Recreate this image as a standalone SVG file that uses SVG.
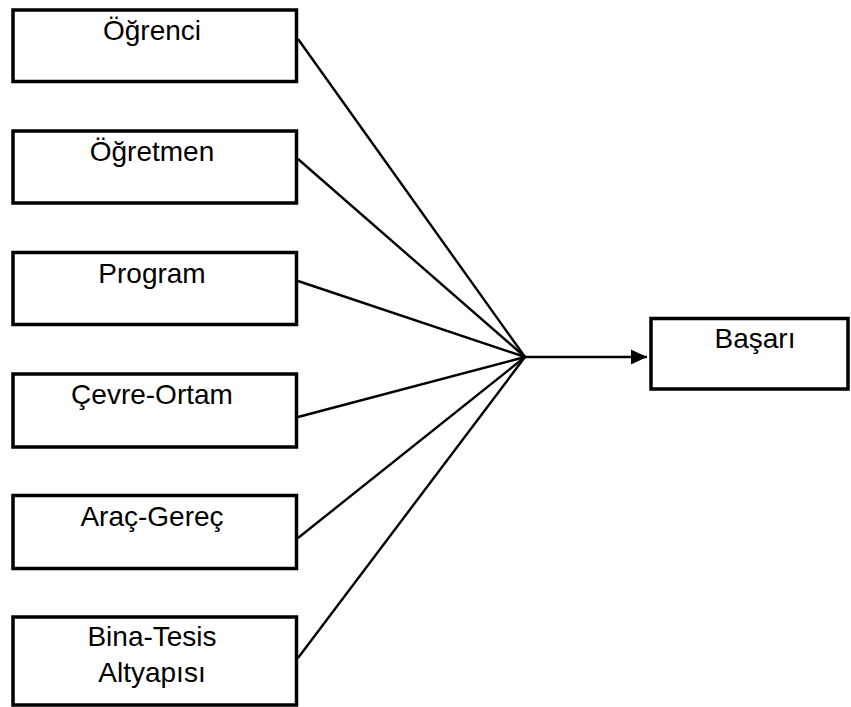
<svg xmlns="http://www.w3.org/2000/svg" width="851" height="707" viewBox="0 0 851 707">
<style>
.box{fill:#fff;stroke:#000;stroke-width:3.5}
.t{font-family:"Liberation Sans",Arial,sans-serif;font-size:28px;fill:#000;text-anchor:middle}
.c{stroke:#000;stroke-width:2.4;fill:none}
</style>
<defs>
<marker id="ah" markerWidth="17" markerHeight="16" refX="16" refY="8" orient="auto" markerUnits="userSpaceOnUse">
<path d="M0,0.5 L16,8 L0,15.5 Z" fill="#000"/>
</marker>
</defs>
<rect width="851" height="707" fill="#fff"/>
<g id="connectors">
<line class="c" x1="298" y1="39" x2="525" y2="357"/>
<line class="c" x1="298" y1="159" x2="525" y2="357"/>
<line class="c" x1="298" y1="281" x2="525" y2="357"/>
<line class="c" x1="298" y1="417" x2="525" y2="357"/>
<line class="c" x1="298" y1="538" x2="525" y2="357"/>
<line class="c" x1="298" y1="658" x2="525" y2="357"/>
<line class="c" x1="525" y1="357" x2="647" y2="357" marker-end="url(#ah)"/>
</g>
<g id="ogrenci"><rect class="box" x="13" y="10" width="283.5" height="71.5"/><text class="t" x="152" y="40">Öğrenci</text></g>
<g id="ogretmen"><rect class="box" x="13" y="131" width="283.5" height="72"/><text class="t" x="152" y="161">Öğretmen</text></g>
<g id="program"><rect class="box" x="13" y="252.5" width="283.5" height="72"/><text class="t" x="152" y="282.5">Program</text></g>
<g id="cevre"><rect class="box" x="13" y="374" width="283.5" height="73"/><text class="t" x="152" y="404">Çevre-Ortam</text></g>
<g id="arac"><rect class="box" x="13" y="495.5" width="283.5" height="73"/><text class="t" x="152" y="525.5">Araç-Gereç</text></g>
<g id="bina"><rect class="box" x="13" y="617" width="283.5" height="88"/><text class="t" x="152" y="645.5">Bina-Tesis</text><text class="t" x="152" y="682">Altyapısı</text></g>
<g id="basari"><rect class="box" x="651" y="318.5" width="197" height="70.5"/><text class="t" x="755" y="348">Başarı</text></g>
</svg>
